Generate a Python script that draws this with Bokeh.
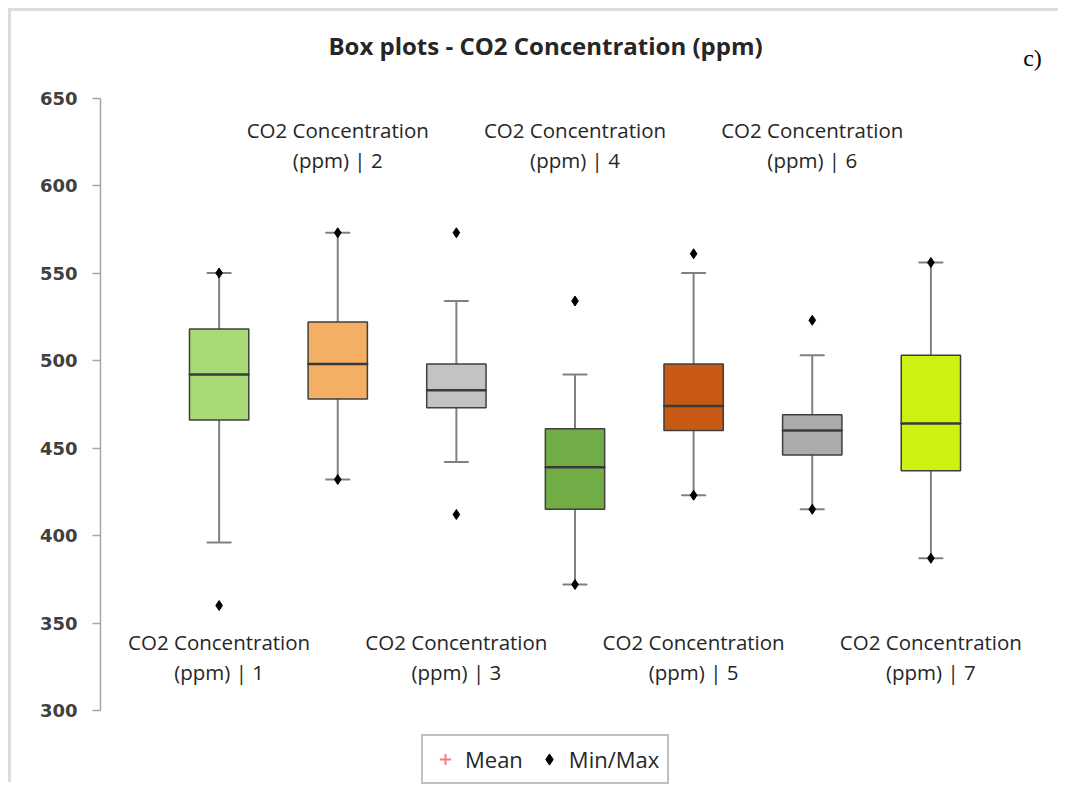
from bokeh.plotting import figure
from bokeh.models import Range1d, FixedTicker, ColumnDataSource, Legend, LegendItem
from bokeh.core.properties import value
from bokeh.embed import file_html
from bokeh.resources import INLINE

# ---- data ----
categories = [1, 2, 3, 4, 5, 6, 7]
mins = [360, 432, 412, 372, 423, 415, 387]
lower_whiskers = [396, 432, 442, 372, 423, 415, 387]
q1 = [466, 478, 473, 415, 460, 446, 437]
medians = [492, 498, 483, 439, 474, 460, 464]
q3 = [518, 522, 498, 461, 498, 469, 503]
upper_whiskers = [550, 573, 534, 492, 550, 503, 556]
maxs = [550, 573, 573, 534, 561, 523, 556]
means_shown = [float("nan")] * 7  # means are not drawn in the picture (legend only)
labels = ["CO2 Concentration (ppm) | %d" % c for c in categories]
y_ticks = [300, 350, 400, 450, 500, 550, 600, 650]
title_text = "Box plots - CO2 Concentration (ppm)"

# ---- styles ----
box_colors = ["#A8DB76", "#F5AF65", "#C3C3C3", "#70AD47", "#C95A14", "#ABABAB", "#CCF212"]
box_w = 0.5
cap_w = 0.2

# ---- layout (page pixel targets) ----
ox, oy = 11, 11               # page position of the canvas origin
W, H = 1050, 774
frame_left_px, frame_right_px = 100, 1049
px_per_unit = 1.75
y650_px, y300_px = 97.5, 710
x_unit_px = (frame_right_px - frame_left_px) / 8.0
fig_bottom = oy + H
y_end = 650 + (y650_px - oy) / px_per_unit
y_start = 300 - (fig_bottom - y300_px) / px_per_unit


def xu(px):
    return (px - frame_left_px) / x_unit_px


def yu(px):
    return 650 - (px - y650_px) / px_per_unit


p = figure(width=W, height=H, output_backend="svg", toolbar_location=None,
           x_range=Range1d(0, 8), y_range=Range1d(y_start, y_end),
           min_border_left=frame_left_px - ox, min_border_right=ox + W - frame_right_px,
           min_border_top=0, min_border_bottom=0)
p.styles = {"margin-left": "8px", "margin-top": "8px",
            "border-left": "3px solid #DCDCDC", "border-top": "3px solid #DCDCDC"}
p.xaxis.visible = False
p.xgrid.visible = False
p.ygrid.visible = False
p.outline_line_color = None

yax = p.yaxis[0]
yax.ticker = FixedTicker(ticks=y_ticks)
yax.bounds = (300, 650)
yax.axis_line_color = "#A6A6A6"
yax.axis_line_width = 1.5
yax.major_tick_line_color = "#A6A6A6"
yax.major_tick_line_width = 1.5
yax.major_tick_in = 0
yax.major_tick_out = 8
yax.minor_tick_line_color = None
yax.major_label_text_font = "DejaVu Sans"
yax.major_label_text_font_style = "bold"
yax.major_label_text_font_size = "18px"
yax.major_label_text_color = "#404040"
yax.major_label_standoff = 15

src = ColumnDataSource(dict(x=categories, mins=mins, lw=lower_whiskers, q1=q1,
                            med=medians, q3=q3, uw=upper_whiskers, maxs=maxs,
                            color=box_colors))

# whiskers
p.segment(x0="x", y0="q3", x1="x", y1="uw", source=src, line_color="#808080", line_width=2)
p.segment(x0="x", y0="lw", x1="x", y1="q1", source=src, line_color="#808080", line_width=2)
p.rect(x="x", y="uw", width=cap_w, height=0.01, source=src, line_color="#808080",
       line_width=2, fill_color=None)
p.rect(x="x", y="lw", width=cap_w, height=0.01, source=src, line_color="#808080",
       line_width=2, fill_color=None)
# boxes
p.vbar(x="x", bottom="q1", top="q3", width=box_w, source=src, fill_color="color",
       line_color="#3F3F3F", line_width=1.5)
p.rect(x="x", y="med", width=box_w, height=0.01, source=src, line_color="#3A3A3A",
       line_width=2.5, fill_color=None)

# min / max markers
mm = p.scatter(x=categories + categories, y=mins + maxs, marker="diamond", size=10,
               fill_color="black", line_color="black")
mean_r = p.scatter(x=categories, y=means_shown, marker="cross", size=14,
                   line_color="#F07F7F", line_width=2)

# category labels
font = value("Open Sans")
lab_x, lab_y1, lab_y2, lab_t1, lab_t2 = [], [], [], [], []
for c, lab in zip(categories, labels):
    head, tail = lab.split(" (")
    lab_x.append(c)
    lab_t1.append(head)
    lab_t2.append("(" + tail)
    if c % 2 == 1:
        lab_y1.append(yu(641))
        lab_y2.append(yu(671))
    else:
        lab_y1.append(yu(129))
        lab_y2.append(yu(159))
p.text(x=lab_x + lab_x, y=lab_y1 + lab_y2, text=lab_t1 + lab_t2, text_font=font,
       text_font_size="20.5px", text_color="#262626", text_align="center",
       text_baseline="middle", text_font_style="normal")

# title and panel tag
p.text(x=[xu(545)], y=[yu(45)], text=[title_text], text_font=font,
       text_font_size="24px", text_font_style="bold",
       text_color="#262626", text_align="center", text_baseline="middle")
p.text(x=[xu(1032)], y=[yu(57)], text=["c)"], text_font=value("Liberation Serif"),
       text_font_size="24px", text_color="black", text_align="center",
       text_baseline="middle")

legend = Legend(items=[LegendItem(label="Mean", renderers=[mean_r]),
                       LegendItem(label="Min/Max", renderers=[mm])],
                orientation="horizontal",
                location=(421 - frame_left_px, fig_bottom - 784),
                border_line_color="#7F7F7F", border_line_width=2,
                label_text_font="Open Sans", label_text_font_size="22px",
                label_text_color="#262626", padding=8, spacing=12,
                glyph_width=28, glyph_height=28, label_standoff=6, margin=0,
                label_height=24)
p.add_layout(legend, "center")

open("out.html", "w").write(file_html(p, INLINE))
